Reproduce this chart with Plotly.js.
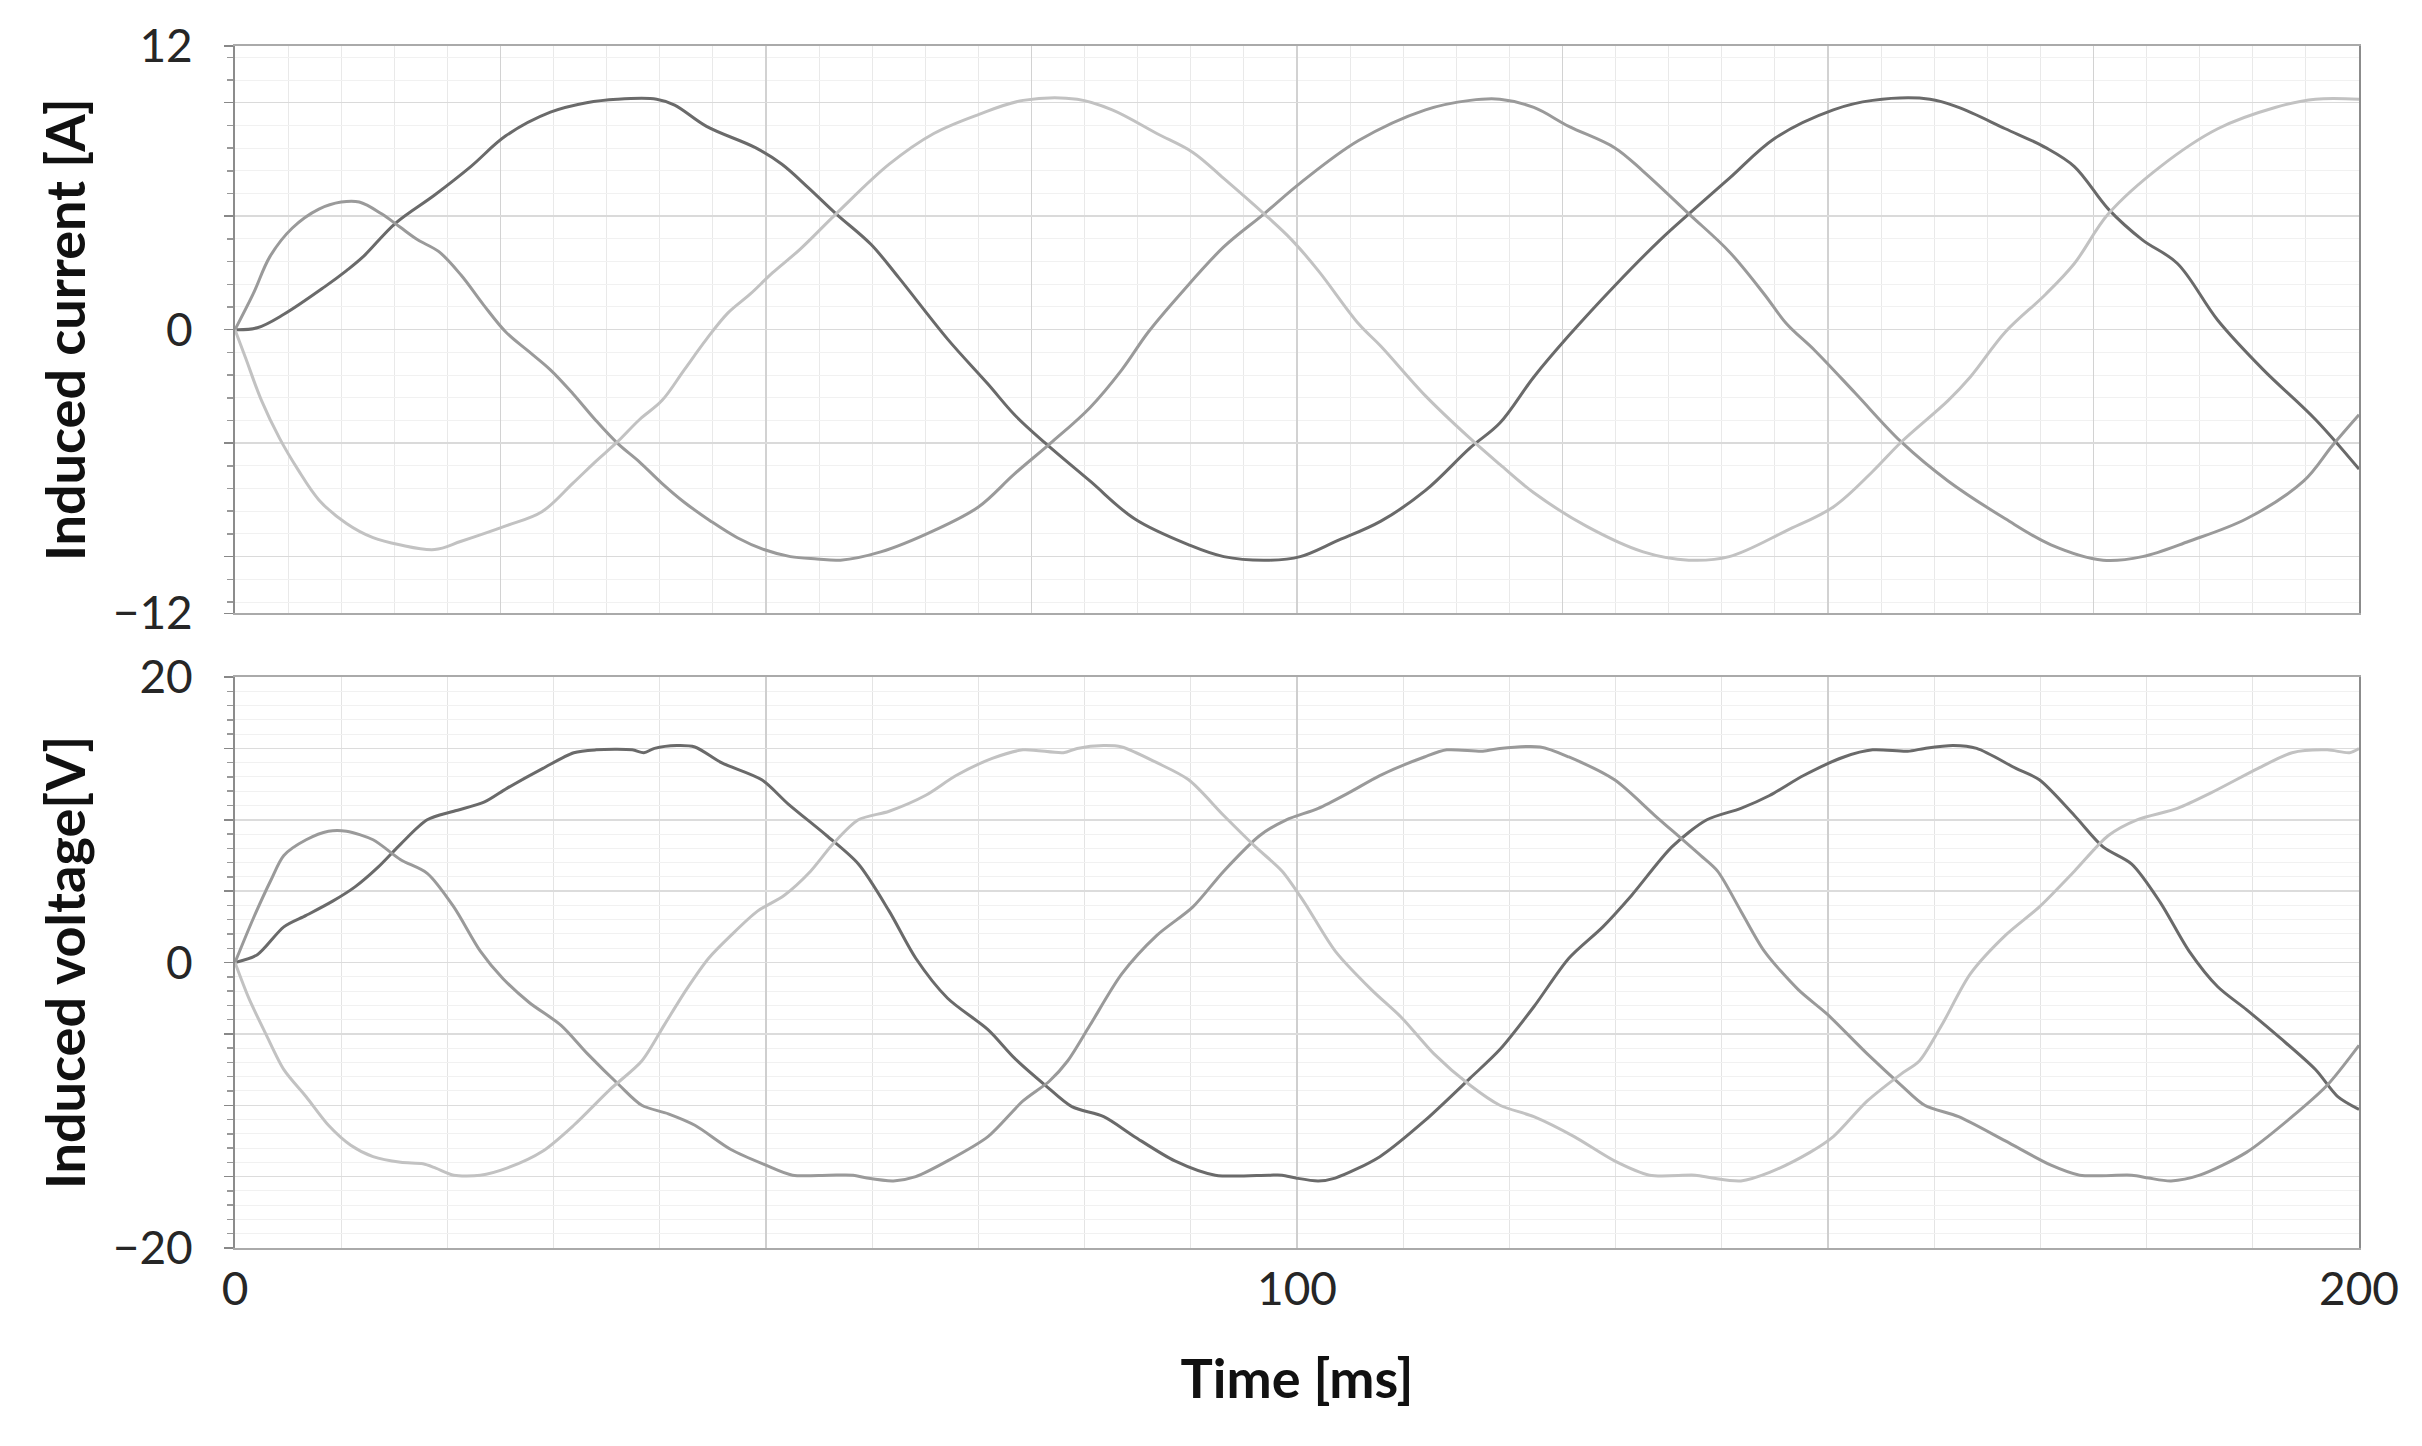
<!DOCTYPE html>
<html>
<head>
<meta charset="utf-8">
<script src="https://cdn.plot.ly/plotly-3.0.1.min.js"></script>
<style>
  html, body { margin: 0; padding: 0; background: #fff; }
  #chart { width: 2422px; height: 1446px; }
</style>
</head>
<body>
<div id="chart"></div>
<script>
// ---- induced current, three phases (time in ms, current in A) ----
const tCurA = [0, 2.1, 4.6, 8.4, 10.5, 12.1, 15.1, 18.8, 22.2, 25.5, 29.7, 33.1, 36.0, 39.7, 41.4, 44.4, 49.0, 51.5, 54.0, 56.6, 59.9, 62.5, 67.1, 70.9, 73.4, 76.3, 80.5, 84.7, 89.8, 93.1, 97.4, 100.3, 103.7, 107.9, 112.1, 116.3, 119.1, 122.3, 125.6, 129.9, 134.2, 136.9, 140.7, 145.0, 150.5, 154.2, 159.6, 162.3, 166.7, 170.5, 173.2, 176.4, 179.6, 182.9, 186.7, 191.0, 195.9, 200];
const curA  = [0, 0.08, 0.65, 1.8, 2.5, 3.1, 4.5, 5.7, 6.9, 8.2, 9.2, 9.6, 9.75, 9.75, 9.5, 8.6, 7.7, 7.0, 6.0, 4.9, 3.6, 2.2, -0.4, -2.3, -3.6, -4.8, -6.4, -8.0, -9.1, -9.6, -9.75, -9.6, -8.95, -8.1, -6.8, -5.0, -3.95, -2.0, -0.25, 1.85, 3.8, 4.9, 6.4, 8.1, 9.3, 9.7, 9.75, 9.4, 8.5, 7.7, 6.9, 5.1, 3.8, 2.8, 0.4, -1.7, -3.8, -5.9];

const tCurB = [0, 1.7, 3.3, 5.4, 7.9, 10.0, 11.7, 13.8, 15.5, 17.2, 19.2, 21.3, 23.4, 25.5, 27.6, 29.7, 31.8, 33.9, 36.0, 38.1, 40.2, 42.3, 44.8, 47.3, 49.8, 52.3, 54.8, 57.0, 60.8, 65.8, 70.0, 73.4, 76.8, 80.5, 83.5, 86.0, 89.0, 93.1, 96.9, 100.3, 105.8, 112.1, 116.3, 119.1, 122.3, 125.6, 129.9, 132.6, 136.9, 140.7, 144.0, 146.1, 148.8, 152.6, 156.9, 161.3, 166.7, 171.0, 175.9, 179.6, 184.0, 189.4, 194.8, 197.5, 200];
const curB  = [0, 1.5, 3.1, 4.3, 5.1, 5.4, 5.4, 4.9, 4.35, 3.8, 3.3, 2.3, 1.05, -0.1, -0.9, -1.7, -2.7, -3.8, -4.8, -5.6, -6.5, -7.3, -8.1, -8.8, -9.3, -9.6, -9.7, -9.75, -9.4, -8.5, -7.5, -6.1, -4.8, -3.3, -1.7, -0.1, 1.5, 3.5, 4.9, 6.2, 8.0, 9.3, 9.7, 9.75, 9.4, 8.6, 7.7, 6.7, 4.9, 3.3, 1.5, 0.25, -0.9, -2.7, -4.75, -6.4, -8.0, -9.1, -9.75, -9.6, -8.95, -8.0, -6.4, -4.9, -3.6];

const tCurC = [0, 1.0, 2.5, 4.2, 5.9, 7.9, 10.5, 13.0, 15.5, 18.8, 21.3, 25.5, 28.9, 31.8, 33.9, 36.0, 38.1, 40.2, 42.3, 44.4, 46.4, 48.5, 50.6, 53.2, 56.6, 61.6, 65.8, 70.0, 74.2, 79.3, 82.6, 86.8, 90.2, 93.1, 96.9, 99.5, 102.0, 105.8, 107.9, 112.1, 116.3, 119.1, 122.3, 127.2, 132.6, 136.9, 140.7, 146.1, 150.5, 154.2, 156.9, 161.3, 163.4, 166.7, 170.5, 173.2, 176.4, 181.3, 186.7, 192.1, 195.9, 200];
const curC  = [0, -1.2, -3.0, -4.6, -5.9, -7.2, -8.2, -8.8, -9.1, -9.3, -8.95, -8.3, -7.7, -6.5, -5.6, -4.75, -3.8, -3.0, -1.7, -0.4, 0.7, 1.5, 2.4, 3.4, 4.9, 7.0, 8.3, 9.1, 9.7, 9.75, 9.3, 8.3, 7.5, 6.4, 4.9, 3.8, 2.5, 0.25, -0.7, -2.8, -4.6, -5.7, -6.9, -8.3, -9.4, -9.75, -9.6, -8.5, -7.5, -6.0, -4.75, -3.0, -2.0, -0.1, 1.5, 2.8, 4.9, 6.9, 8.5, 9.4, 9.75, 9.75];

// ---- induced voltage, three phases (time in ms, voltage in V) ----
const tVolA = [0, 2.1, 4.6, 6.7, 9.2, 11.3, 13.5, 15.6, 18.1, 20.6, 23.5, 25.6, 29.0, 31.9, 34.0, 37.4, 38.5, 39.5, 41.6, 43.3, 45.8, 49.6, 52.1, 55.7, 58.7, 61.6, 64.1, 67.1, 70.9, 73.4, 76.3, 78.8, 81.8, 84.7, 88.5, 92.3, 97.3, 98.6, 99.9, 102.0, 103.6, 107.8, 112.0, 116.3, 119.1, 122.3, 125.6, 128.8, 131.5, 135.3, 138.6, 141.8, 144.5, 147.7, 151.5, 154.2, 157.5, 159.1, 161.8, 164.0, 167.7, 169.9, 173.2, 175.9, 178.6, 181.3, 184.0, 186.7, 189.4, 192.6, 195.9, 198.0, 200];
const volA  = [0, 0.55, 2.5, 3.3, 4.3, 5.3, 6.7, 8.3, 10.0, 10.6, 11.25, 12.2, 13.6, 14.7, 14.9, 14.9, 14.7, 15.0, 15.2, 15.1, 14.0, 12.8, 11.1, 8.9, 6.9, 3.6, 0.3, -2.5, -4.7, -6.7, -8.6, -10.1, -10.8, -12.2, -13.9, -14.9, -14.9, -14.9, -15.1, -15.3, -15.1, -13.6, -11.1, -8.1, -6.1, -3.1, 0.3, 2.5, 4.7, 8.1, 10.0, 10.8, 11.7, 13.1, 14.4, 14.9, 14.8, 15.0, 15.2, 15.0, 13.6, 12.8, 10.3, 8.1, 6.9, 4.2, 0.8, -1.7, -3.3, -5.3, -7.5, -9.4, -10.3];

const tVolB = [0, 1.7, 3.4, 4.6, 6.7, 8.8, 10.5, 13.0, 15.6, 18.1, 20.6, 23.1, 25.2, 27.7, 30.7, 33.2, 36.2, 38.3, 40.8, 43.3, 46.7, 50.0, 52.5, 55.9, 58.2, 59.5, 62.0, 64.1, 67.1, 70.9, 74.2, 76.7, 78.4, 80.5, 83.5, 86.8, 90.2, 93.1, 96.5, 99.0, 102.0, 104.9, 107.8, 112.0, 114.1, 117.5, 119.1, 122.9, 125.6, 129.9, 133.7, 138.0, 139.6, 141.8, 144.0, 147.2, 149.9, 153.7, 156.9, 159.1, 162.3, 166.7, 171.0, 173.7, 178.6, 180.2, 182.3, 185.0, 189.4, 193.7, 197.0, 200];
const volB  = [0, 3.05, 5.8, 7.5, 8.6, 9.2, 9.2, 8.6, 7.2, 6.25, 3.9, 0.8, -1.1, -2.8, -4.4, -6.4, -8.6, -10.0, -10.6, -11.4, -13.1, -14.2, -14.9, -14.9, -14.9, -15.1, -15.3, -15.0, -13.9, -12.2, -9.7, -8.3, -6.9, -4.4, -0.8, 1.9, 3.9, 6.4, 8.9, 10.0, 10.8, 11.9, 13.1, 14.4, 14.9, 14.8, 15.0, 15.1, 14.4, 12.8, 10.3, 7.5, 6.4, 3.6, 0.8, -1.9, -3.6, -6.4, -8.6, -10.0, -10.8, -12.5, -14.2, -14.9, -14.9, -15.1, -15.3, -14.9, -13.3, -10.8, -8.6, -5.8];

const tVolC = [0, 1.3, 2.9, 4.6, 6.7, 8.8, 10.9, 13.0, 15.6, 17.7, 18.9, 20.6, 23.1, 25.6, 29.0, 31.9, 35.3, 38.3, 40.4, 42.5, 44.6, 46.7, 49.2, 51.7, 54.2, 56.3, 58.7, 61.6, 65.0, 67.9, 71.3, 74.2, 78.0, 79.3, 81.8, 83.5, 86.8, 89.8, 93.1, 96.1, 98.6, 100.7, 103.6, 107.0, 109.9, 112.9, 116.3, 119.1, 122.3, 126.1, 129.9, 133.2, 137.5, 139.1, 141.8, 144.5, 148.3, 150.5, 153.7, 156.9, 158.6, 160.7, 163.4, 166.7, 169.9, 173.2, 176.4, 179.1, 182.9, 186.1, 190.5, 193.7, 197.0, 199.1, 200];
const volC  = [0, -2.5, -5.0, -7.5, -9.4, -11.4, -12.8, -13.6, -14.0, -14.1, -14.4, -14.9, -14.9, -14.4, -13.2, -11.4, -8.9, -6.9, -4.4, -1.9, 0.3, 1.9, 3.6, 4.7, 6.4, 8.3, 10.0, 10.6, 11.7, 13.1, 14.3, 14.9, 14.7, 15.0, 15.2, 15.1, 14.0, 12.8, 10.3, 8.1, 6.4, 4.2, 0.8, -1.9, -3.9, -6.4, -8.6, -10.0, -10.8, -12.2, -13.9, -14.9, -14.9, -15.1, -15.3, -14.7, -13.3, -12.2, -9.7, -7.8, -6.9, -4.4, -0.8, 1.9, 3.9, 6.4, 8.9, 10.0, 10.8, 11.9, 13.6, 14.7, 14.9, 14.7, 15.0];

// tick labels
const curTickVals = [-12, -9.6, -4.8, 0, 4.8, 9.6, 12];
const curTickText = ['\u221212', '', '', '0', '', '', '12'];
const volTickVals = [-20, -15, -10, -5, 0, 5, 10, 15, 20];
const volTickText = ['\u221220', '', '', '', '0', '', '', '', '20'];
const timeTickVals = [0, 50, 100, 150, 200];
const timeTickText = ['0', '', '100', '', '200'];

const phaseColors = ['#6a6a6a', '#9a9a9a', '#c2c2c2'];

function line(x, y, color, xa, ya, smooth) {
  return {
    x: x, y: y, xaxis: xa, yaxis: ya,
    type: 'scatter', mode: 'lines',
    line: { color: color, width: 3, shape: 'spline', smoothing: smooth },
    hoverinfo: 'skip'
  };
}

const data = [
  line(tCurA, curA, phaseColors[0], 'x', 'y', 1.0),
  line(tCurB, curB, phaseColors[1], 'x', 'y', 1.0),
  line(tCurC, curC, phaseColors[2], 'x', 'y', 1.0),
  line(tVolA, volA, phaseColors[0], 'x2', 'y2', 0.8),
  line(tVolB, volB, phaseColors[1], 'x2', 'y2', 0.8),
  line(tVolC, volC, phaseColors[2], 'x2', 'y2', 0.8)
];

const tickFont = { family: 'Lato, "Open Sans", sans-serif', size: 46, color: '#262626' };
const titleFont = { family: 'Lato, "Open Sans", sans-serif', size: 54, color: '#111', weight: 700 };

const layout = {
  width: 2422,
  height: 1446,
  margin: { l: 235, r: 63, t: 46, b: 198 },
  paper_bgcolor: '#ffffff',
  plot_bgcolor: '#ffffff',
  showlegend: false,
  xaxis: {
    domain: [0, 1], anchor: 'y', range: [0, 200],
    tickmode: 'linear', tick0: 0, dtick: 25,
    showticklabels: false, ticks: '',
    showgrid: true, gridcolor: '#d2d2d2', gridwidth: 1.5,
    minor: { tick0: 0, dtick: 5, showgrid: true, gridcolor: '#e9e9e9', gridwidth: 1 },
    zeroline: false, showline: true, linecolor: '#aaaaaa', linewidth: 2, mirror: true
  },
  yaxis: {
    domain: [0.528, 1], anchor: 'x', range: [-12, 12],
    tickmode: 'array', tickvals: curTickVals, ticktext: curTickText,
    tickfont: tickFont, ticks: 'outside', ticklen: 9, tickcolor: '#888', tickwidth: 1.5,
    ticklabelstandoff: 22,
    showgrid: true, gridcolor: '#dadada', gridwidth: 1.5,
    minor: { tick0: 0, dtick: 0.96, ticks: 'outside', ticklen: 6, tickcolor: '#999',
             showgrid: true, gridcolor: '#f1f1f1', gridwidth: 1 },
    zeroline: false, showline: true, linecolor: '#8c8c8c', linewidth: 2, mirror: true,
    title: { text: 'Induced current [A]', font: titleFont, standoff: 10 },
    automargin: false
  },
  xaxis2: {
    domain: [0, 1], anchor: 'y2', range: [0, 200],
    tickmode: 'array', tickvals: timeTickVals, ticktext: timeTickText,
    tickfont: tickFont, ticks: '',
    showgrid: true, gridcolor: '#cfcfcf', gridwidth: 1.5,
    minor: { tick0: 0, dtick: 10, showgrid: true, gridcolor: '#e4e4e4', gridwidth: 1 },
    zeroline: false, showline: true, linecolor: '#aaaaaa', linewidth: 2, mirror: true,
    title: { text: 'Time [ms]', font: titleFont, standoff: 46 },
    automargin: false
  },
  yaxis2: {
    domain: [0, 0.475], anchor: 'x2', range: [-20, 20],
    tickmode: 'array', tickvals: volTickVals, ticktext: volTickText,
    tickfont: tickFont, ticks: 'outside', ticklen: 9, tickcolor: '#888', tickwidth: 1.5,
    ticklabelstandoff: 22,
    showgrid: true, gridcolor: '#dcdcdc', gridwidth: 1.5,
    minor: { tick0: 0, dtick: 1, ticks: 'outside', ticklen: 6, tickcolor: '#999',
             showgrid: true, gridcolor: '#f1f1f1', gridwidth: 1 },
    zeroline: false, showline: true, linecolor: '#8c8c8c', linewidth: 2, mirror: true,
    title: { text: 'Induced voltage[V]', font: titleFont, standoff: 10 },
    automargin: false
  }
};

Plotly.newPlot('chart', data, layout, { staticPlot: true, displayModeBar: false });
</script>
</body>
</html>
